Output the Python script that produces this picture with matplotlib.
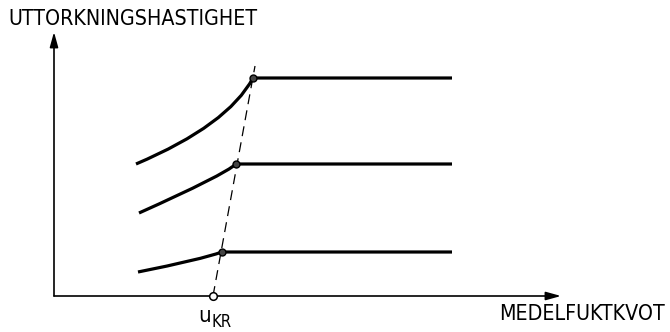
import matplotlib
matplotlib.use("Agg")
import matplotlib.pyplot as plt
from matplotlib.path import Path
from matplotlib.patches import PathPatch

# Data (arbitrary units; origin at axes corner)
# each curve: start point, bezier control point, critical (knee) point
top_curve = [(0.82, 1.32), (1.74, 1.71), (1.99, 2.18)]
mid_curve = [(0.85, 0.83), (1.70, 1.21), (1.82, 1.32)]
bot_curve = [(0.84, 0.24), (1.47, 0.365), (1.68, 0.44)]
flat_end = 3.98
ukr = 1.59
dash_top = (2.01, 2.30)
y_label = "UTTORKNINGSHASTIGHET"
x_label = "MEDELFUKTKVOT"

W, H = 670, 332
fig = plt.figure(figsize=(W / 100, H / 100), dpi=100)
ax = fig.add_axes([0, 0, 1, 1])
ox, oy, s = 54, 296, 100
ax.set_xlim(-ox / s, (W - ox) / s)
ax.set_ylim(-(H - oy) / s, oy / s)
ax.axis("off")

lw = 2.3
for start, ctrl, knee in [top_curve, mid_curve, bot_curve]:
    verts = [start, ctrl, knee, (flat_end, knee[1])]
    codes = [Path.MOVETO, Path.CURVE3, Path.CURVE3, Path.LINETO]
    ax.add_patch(PathPatch(Path(verts, codes), fill=False, lw=lw,
                           ec="black", capstyle="butt", joinstyle="round"))
    ax.plot(knee[0], knee[1], "o", ms=5, mfc="#444444", mec="black", mew=1,
            zorder=4)

# dashed critical line
ax.plot([ukr, dash_top[0]], [0, dash_top[1]], color="black", lw=0.9,
        dashes=(8, 5))
ax.plot(ukr, 0, "o", ms=5.5, mfc="white", mec="black", mew=1.1, zorder=5)

# axes with arrows
arrow = dict(arrowstyle="-|>,head_length=0.9,head_width=0.25", color="black",
             lw=1.2, shrinkA=0, shrinkB=0)
ax.annotate("", xy=(0, 2.64), xytext=(0, 0), arrowprops=arrow)
ax.annotate("", xy=(5.07, 0), xytext=(0, 0), arrowprops=arrow)

ax.text(-0.46, 2.71, y_label, fontsize=15.3, family="DejaVu Sans",
        fontstretch="condensed", ha="left", va="baseline")
ax.text(6.11, -0.24, x_label, fontsize=15.3, family="DejaVu Sans",
        fontstretch="condensed", ha="right", va="baseline")
ax.text(1.51, -0.26, "u", fontsize=16, ha="center", va="baseline",
        family="DejaVu Sans", fontstretch="condensed")
ax.text(1.58, -0.31, "KR", fontsize=12, ha="left", va="baseline",
        family="DejaVu Sans", fontstretch="condensed")

fig.savefig("out.png", dpi=100)
